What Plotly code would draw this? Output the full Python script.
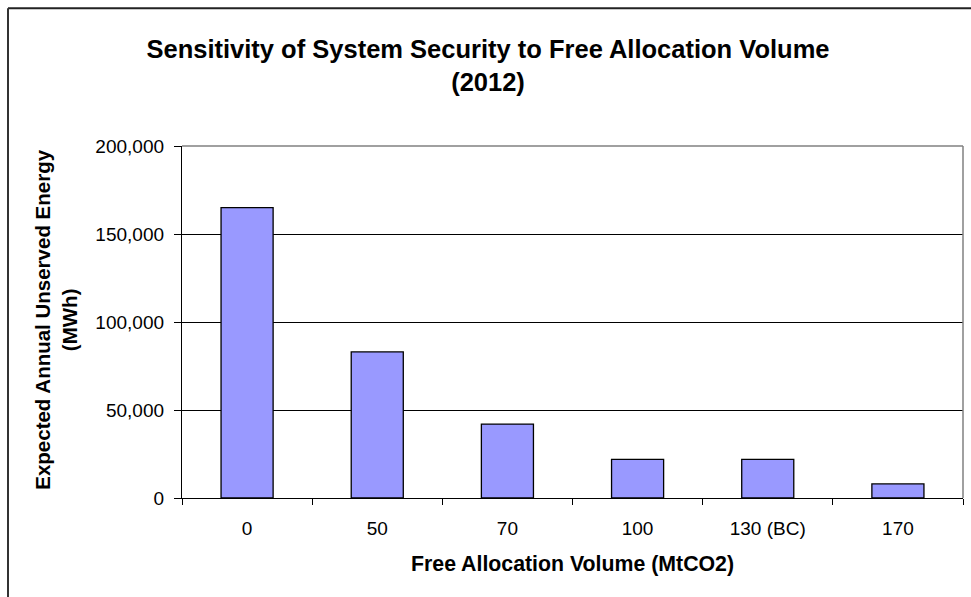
import plotly.graph_objects as go

categories = ["0", "50", "70", "100", "130 (BC)", "170"]
unserved_energy = [165000, 83000, 42000, 22000, 22000, 8000]
y_tick_values = [0, 50000, 100000, 150000, 200000]

FONT = "Liberation Sans, Arial, sans-serif"

fig = go.Figure()
fig.add_trace(go.Bar(
    x=categories,
    y=unserved_energy,
    marker=dict(color="#9999FF", line=dict(color="#000000", width=1.3)),
    showlegend=False,
))

W, H = 971, 597
L, R, T, B = 182, 8, 146, 98.5
pw = W - L - R
ph = H - T - B

def px_x(px):
    return (px - L) / pw

def px_y(py):
    return (H - B - py) / ph

fig.update_layout(
    width=W, height=H,
    margin=dict(l=L, r=R, t=T, b=B, pad=0),
    paper_bgcolor="white",
    plot_bgcolor="white",
    bargap=0.6,
    font=dict(family=FONT, color="black", size=19),
    title=dict(
        text="<b>Sensitivity of System Security to Free Allocation Volume<br>(2012)</b>",
        x=488 / W, xref="container", xanchor="center",
        y=1 - 58 / H, yref="container", yanchor="middle",
        font=dict(family=FONT, size=25.5, color="black"),
    ),
    xaxis=dict(
        type="category",
        showline=True, linecolor="black", linewidth=1.3,
        ticks="outside", tickson="boundaries", ticklen=6, tickcolor="black", tickwidth=1.3,
        ticklabelstandoff=13,
        showgrid=False,
        tickfont=dict(size=19),
    ),
    yaxis=dict(
        range=[0, 200000],
        tickvals=y_tick_values,
        tickformat=",",
        showline=True, linecolor="black", linewidth=1.3,
        ticks="outside", ticklen=7, tickcolor="black", tickwidth=1.3,
        ticklabelstandoff=6,
        showgrid=True, gridcolor="black", gridwidth=1,
        zeroline=False,
        tickfont=dict(size=19),
    ),
    annotations=[
        dict(
            text="<b>Expected Annual Unserved Energy<br>(MWh)</b>",
            xref="paper", yref="paper",
            x=px_x(56), y=px_y(320),
            xanchor="center", yanchor="middle",
            textangle=-90, showarrow=False,
            font=dict(family=FONT, size=20.5, color="black"),
        ),
        dict(
            text="<b>Free Allocation Volume (MtCO2)</b>",
            xref="paper", yref="paper",
            x=0.5, y=px_y(565),
            xanchor="center", yanchor="middle",
            showarrow=False,
            font=dict(family=FONT, size=21.3, color="black"),
        ),
    ],
    shapes=[
        # plot area border (top and right, gray)
        dict(type="line", xref="paper", yref="paper", x0=0, x1=1, y0=1, y1=1,
             line=dict(color="#808080", width=1.5), layer="above"),
        dict(type="line", xref="paper", yref="paper", x0=1, x1=1, y0=0, y1=1,
             line=dict(color="#808080", width=1.5), layer="above"),
        # outer chart border (left and top)
        dict(type="line", xref="paper", yref="paper",
             x0=px_x(8), x1=px_x(980), y0=px_y(8), y1=px_y(8),
             line=dict(color="#222222", width=2), layer="above"),
        dict(type="line", xref="paper", yref="paper",
             x0=px_x(8), x1=px_x(8), y0=px_y(8), y1=px_y(610),
             line=dict(color="#333333", width=2), layer="above"),
    ],
)

fig.write_html(
    "out.html",
    config={"displayModeBar": False},
    post_script="document.body.style.margin='0';",
)
